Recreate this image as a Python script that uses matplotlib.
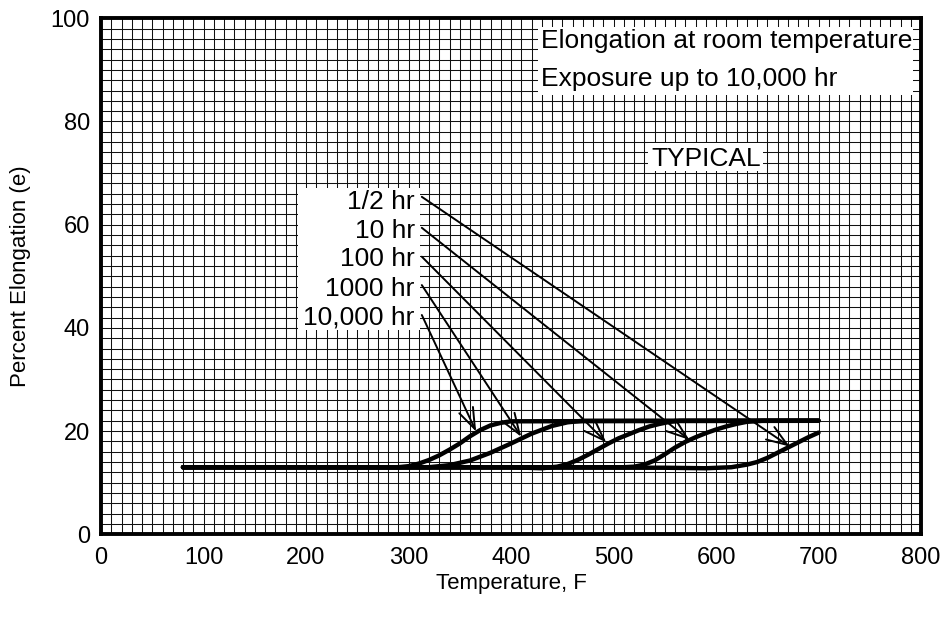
import matplotlib
matplotlib.use("Agg")
import matplotlib.pyplot as plt
from matplotlib.patches import Rectangle
import numpy as np

plt.rcParams['font.family'] = ['Liberation Sans', 'DejaVu Sans']

# ---- data ----
t_10000 = [80, 290, 300, 310, 320, 330, 340, 350, 360, 370, 380, 390, 400, 700]
e_10000 = [13, 13, 13.2, 13.7, 14.4, 15.3, 16.4, 17.6, 19.0, 20.2, 21.1, 21.6, 21.9, 22]

t_1000 = [80, 320, 340, 360, 380, 400, 420, 440, 455, 470, 700]
e_1000 = [13, 13, 13.4, 14.3, 15.8, 17.6, 19.5, 21.0, 21.7, 22, 22]

t_100 = [80, 400, 430, 445, 455, 465, 475, 485, 495, 505, 515, 525, 535, 545, 555, 565, 700]
e_100 = [13, 13, 12.8, 13.1, 13.6, 14.4, 15.4, 16.5, 17.6, 18.6, 19.4, 20.2, 20.9, 21.4, 21.8, 22, 22]

t_10 = [80, 510, 520, 530, 540, 550, 560, 570, 580, 590, 600, 610, 620, 630, 645, 700]
e_10 = [13, 13, 13.1, 13.5, 14.3, 15.5, 16.8, 17.9, 18.8, 19.6, 20.3, 20.9, 21.4, 21.8, 22, 22]

t_half = [80, 550, 590, 615, 630, 640, 650, 660, 670, 680, 690, 700]
e_half = [13, 12.9, 12.8, 13.0, 13.5, 14.0, 14.8, 15.8, 16.8, 17.8, 18.8, 19.7]

labels = ["1/2 hr", "10 hr", "100 hr", "1000 hr", "10,000 hr"]
label_base_y = [63.0, 57.5, 51.9, 46.2, 40.7]
label_x = 306
arrow_start_x = 313
arrow_start_y = [65.4, 59.4, 53.8, 48.3, 42.5]
arrow_tips_t = [672, 574, 493, 410, 366]
arrow_tips_e = [17.0, 18.3, 17.8, 18.9, 19.9]

x_ticks = [0, 100, 200, 300, 400, 500, 600, 700, 800]
y_ticks = [0, 20, 40, 60, 80, 100]

# ---- figure ----
fig = plt.figure(figsize=(9.5, 6.18), dpi=100)
ax = fig.add_axes([101/950, 1-534.3/618, 820/950, (534.3-18.3)/618])
ax.set_xlim(0, 800)
ax.set_ylim(0, 100)

ax.set_xticks(x_ticks)
ax.set_yticks(y_ticks)
ax.set_xticks(np.arange(0, 801, 10), minor=True)
ax.set_yticks(np.arange(0, 101, 2), minor=True)
ax.grid(True, which='both', color='#111111', lw=0.75)
ax.set_axisbelow(True)
ax.tick_params(which='both', length=0, labelsize=17)
ax.tick_params(axis='x', pad=9)
ax.tick_params(axis='y', pad=8)

for s in ax.spines.values():
    s.set_linewidth(2.8)
    s.set_color('black')
    s.set_zorder(6)

for t, e in [(t_10000, e_10000), (t_1000, e_1000), (t_100, e_100), (t_10, e_10), (t_half, e_half)]:
    ax.plot(t, e, color='black', lw=3.2, solid_capstyle='round', solid_joinstyle='round', zorder=3)

ax.set_xlabel("Temperature, F", fontsize=16, labelpad=3)
ax.set_ylabel("Percent Elongation (e)", fontsize=16, labelpad=14)

# white panels behind annotations
ax.add_patch(Rectangle((192, 39.6), 311 - 192, 67.2 - 39.6, facecolor='white', edgecolor='none', zorder=2))
ax.add_patch(Rectangle((426, 85.1), 792 - 426, 98.4 - 85.1, facecolor='white', edgecolor='none', zorder=2))
ax.add_patch(Rectangle((534, 70.4), 646 - 534, 75.9 - 70.4, facecolor='white', edgecolor='none', zorder=2))

for lab, ly in zip(labels, label_base_y):
    ax.text(label_x, ly, lab, ha='right', va='baseline', fontsize=19, zorder=4)

for sy, tt, te in zip(arrow_start_y, arrow_tips_t, arrow_tips_e):
    ax.annotate("", xy=(tt, te), xytext=(arrow_start_x, sy),
                arrowprops=dict(arrowstyle='->,head_length=0.75,head_width=0.27',
                                color='black', lw=1.4, shrinkA=0, shrinkB=0,
                                mutation_scale=20), zorder=5)

ax.text(429, 96.1, "Elongation at room temperature", ha='left', va='center_baseline',
        fontsize=19, zorder=4)
ax.text(429, 88.7, "Exposure up to 10,000 hr", ha='left', va='center_baseline',
        fontsize=19, zorder=4)

ax.text(590, 73.2, "TYPICAL", ha='center', va='center_baseline', fontsize=19, zorder=4)

fig.savefig("out.png", dpi=100)
